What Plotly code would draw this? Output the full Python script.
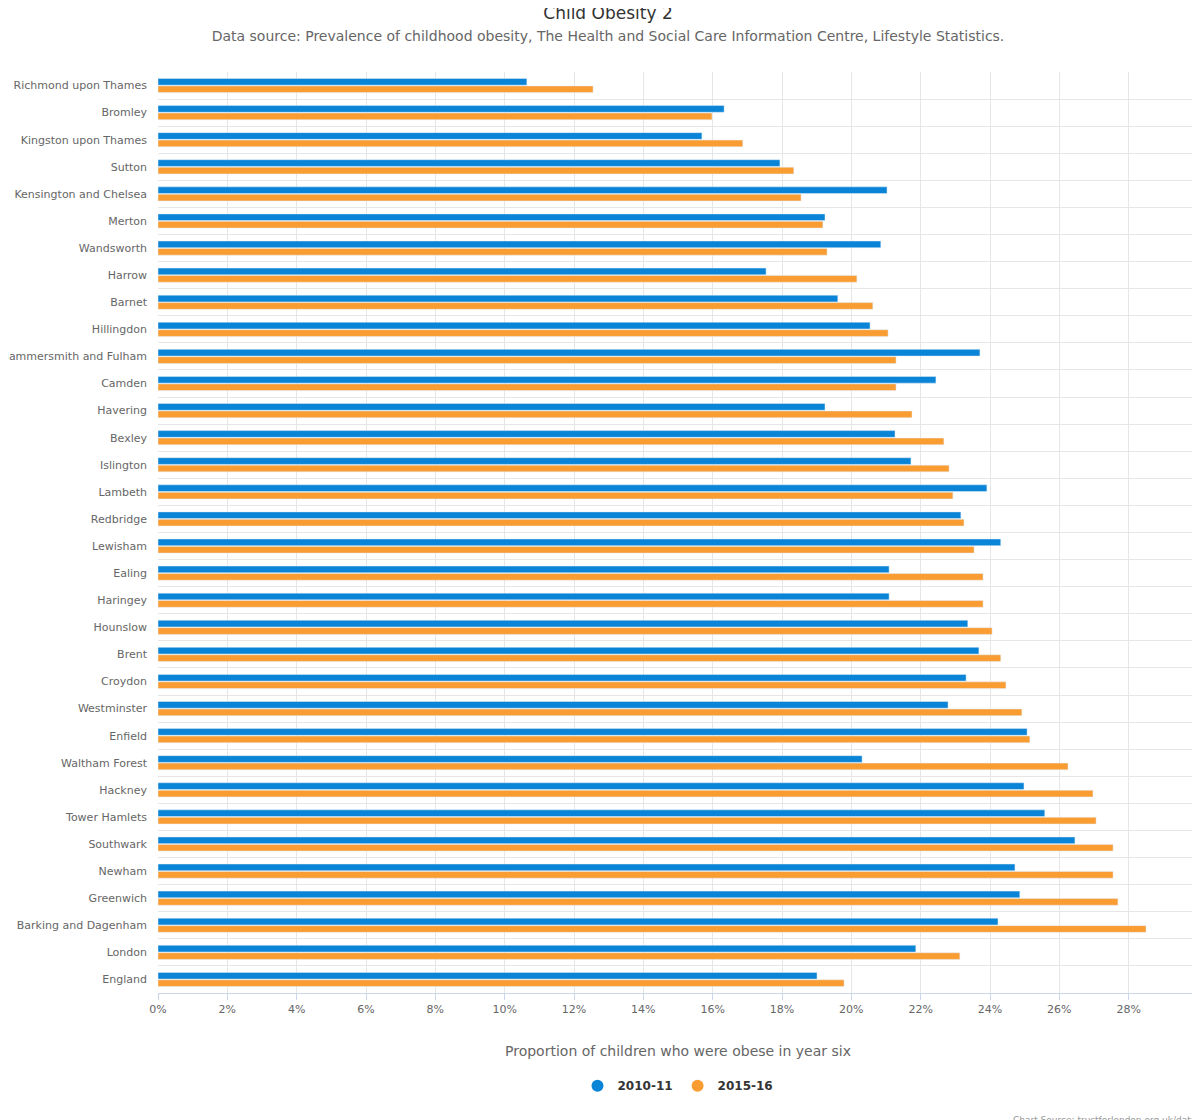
import plotly.graph_objects as go

boroughs = ["Richmond upon Thames","Bromley","Kingston upon Thames","Sutton","Kensington and Chelsea","Merton","Wandsworth","Harrow","Barnet","Hillingdon","Hammersmith and Fulham","Camden","Havering","Bexley","Islington","Lambeth","Redbridge","Lewisham","Ealing","Haringey","Hounslow","Brent","Croydon","Westminster","Enfield","Waltham Forest","Hackney","Tower Hamlets","Southwark","Newham","Greenwich","Barking and Dagenham","London","England"]
v2010 = [10.64,16.33,15.69,17.94,21.03,19.24,20.85,17.54,19.61,20.54,23.71,22.44,19.24,21.26,21.72,23.91,23.16,24.31,21.09,21.09,23.36,23.68,23.31,22.79,25.07,20.31,24.98,25.58,26.45,24.72,24.86,24.23,21.86,19.01]
v2015 = [12.55,15.98,16.87,18.34,18.55,19.18,19.30,20.16,20.62,21.06,21.29,21.29,21.75,22.67,22.82,22.93,23.25,23.54,23.80,23.80,24.06,24.31,24.46,24.92,25.15,26.25,26.97,27.06,27.55,27.55,27.69,28.50,23.13,19.79]
ticks = list(range(0, 32, 2))
series = [("2010-11", v2010, "#0a84d6"), ("2015-16", v2015, "#f99d33")]

fig = go.Figure()
for name, vals, col in series:
    fig.add_bar(y=boroughs, x=vals, name=name, orientation="h", marker_color=col, showlegend=False)
for name, vals, col in series:
    fig.add_scatter(x=[None], y=[None], mode="markers", name=name,
                    marker=dict(symbol="circle", size=12, color=col))
fig.update_layout(
    width=1200, height=1120, plot_bgcolor="white", paper_bgcolor="white",
    font=dict(family="DejaVu Sans", color="#666666", size=11),
    title=dict(text="Child Obesity 2<br><span style='font-size:14px;color:#666'>Data source: Prevalence of childhood obesity, The Health and Social Care Information Centre, Lifestyle Statistics.</span>",
               x=0.5, y=0.99, yanchor="top", xanchor="center", font=dict(size=17, color="#333333")),
    margin=dict(l=150, r=10, t=64, b=135),
    barmode="group", bargap=0.45, bargroupgap=0.1,
    legend=dict(orientation="h", x=0.5, xanchor="center", y=-0.085, yanchor="top",
                font=dict(size=12, color="#333333", weight="bold"), itemwidth=30),
)
fig.update_xaxes(range=[0, 30], tickvals=ticks, ticktext=[f"{t}%" for t in ticks],
                 showgrid=True, gridcolor="#e6e6e6", zeroline=False, showline=True, linecolor="#ccd6eb",
                 ticks="outside", tickcolor="#ccd6eb", ticklen=6,
                 title=dict(text="Proportion of children who were obese in year six", font=dict(size=14, color="#666666"), standoff=30))
fig.update_yaxes(autorange="reversed", tickson="boundaries", showgrid=True, gridcolor="#e6e6e6",
                 ticks="", ticklabelstandoff=10, showline=False, automargin=False)
fig.add_annotation(text="Chart Source: trustforlondon.org.uk/data", xref="paper", yref="paper",
                   x=1, y=-0.13, xanchor="right", yanchor="top", showarrow=False,
                   font=dict(size=9, color="#999999"))
fig.write_html("out.html")
